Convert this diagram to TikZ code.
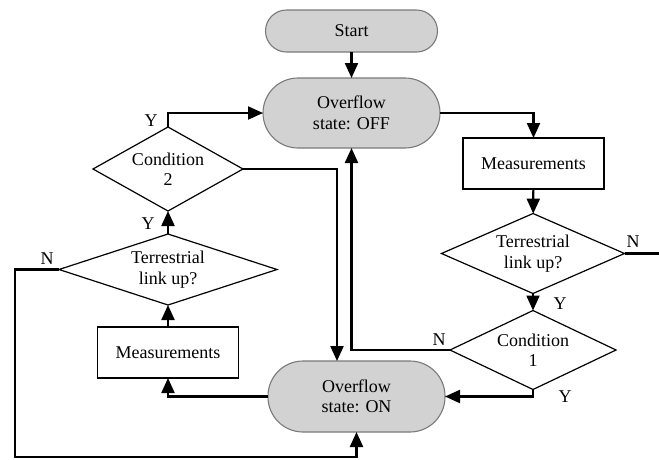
\documentclass[tikz,border=0pt]{standalone}
\usepackage{fontspec}
\setmainfont{Liberation Serif}
\usetikzlibrary{shapes.geometric,arrows.meta}
\definecolor{pillfill}{HTML}{D2D2D2}
\definecolor{pillline}{HTML}{7A7A7A}
\begin{document}
\begin{tikzpicture}[x=1pt,y=-1pt,
  every node/.style={font=\fontsize{18}{20.5}\selectfont, align=center, outer sep=0pt},
  pill/.style={rectangle, fill=pillfill, draw=pillline, line width=1.1pt, inner sep=0pt},
  box/.style={rectangle, draw=black, line width=1.2pt, inner sep=0pt,
              minimum width=141pt, minimum height=51pt},
  decision/.style={diamond, draw=black, line width=1.2pt, inner sep=0pt},
  flow/.style={line width=2.2pt, line join=miter,
               -{Triangle[length=15pt,width=13pt]}},
  plain/.style={line width=2.2pt, line join=miter},
  tag/.style={inner sep=0pt}
]
\useasboundingbox (0,0) rectangle (659,459);

% terminals and states
\node[pill, minimum width=172pt, minimum height=42pt, rounded corners=21pt]
  (start) at (351.5,31) {Start};
\node[pill, minimum width=177pt, minimum height=70pt, rounded corners=35pt]
  (off) at (351.5,113) {Overflow\\state: OFF};
\node[pill, minimum width=177pt, minimum height=71pt, rounded corners=35pt]
  (on) at (356.5,396.5) {Overflow\\state: ON};

% right-hand branch (diamond text is set as a centred label so the
% outline keeps its given size)
\node[box] (measR) at (533.5,163.5) {Measurements};
\node[decision, minimum width=183pt, minimum height=80pt,
      label={center:Terrestrial\\link up?}]
  (t1) at (533,253.5) {};
\node[decision, minimum width=166pt, minimum height=79pt,
      label={center:Condition\\1}]
  (c1) at (533,350) {};

% left-hand branch
\node[box] (measL) at (168,352.5) {Measurements};
\node[decision, minimum width=218pt, minimum height=71pt,
      label={center:Terrestrial\\link up?}]
  (t2) at (168,269.5) {};
\node[decision, minimum width=150pt, minimum height=84pt,
      label={center:Condition\\2}]
  (c2) at (168,169) {};

% loose ends and turning points
\coordinate (rightout) at (659,253.5);
\coordinate (lowleft) at (15,457);

% connectors
\draw[flow] (start) -- (off);
\draw[flow] (off.east) -| (measR.north);
\draw[flow] (measR) -- (t1);
\draw[plain] (t1.east) -- (rightout);
\draw[flow] (t1.south) -- (c1.north);
\draw[flow] (c1.west) -| (off.south);
\draw[flow] (c1.south) |- (on.east);
\draw[flow] (on.west) -| (measL.south);
\draw[flow] (measL) -- (t2);
\draw[flow] (t2.north) -- (c2.south);
\draw[flow] (c2.north) |- (off.west);
\draw[flow] (c2.east) -| ([xshift=-19.5pt]on.north);
\draw[flow] (t2.west) -| (lowleft) -| (on.south);

% branch labels
\node[tag] (y1) at (151,121) {Y};
\node[tag] (y2) at (148,224) {Y};
\node[tag] (y3) at (560,304) {Y};
\node[tag] (y4) at (565,397) {Y};
\node[tag] (n1) at (47,259) {N};
\node[tag] (n2) at (633,242) {N};
\node[tag] (n3) at (439,340) {N};
\end{tikzpicture}
\end{document}
